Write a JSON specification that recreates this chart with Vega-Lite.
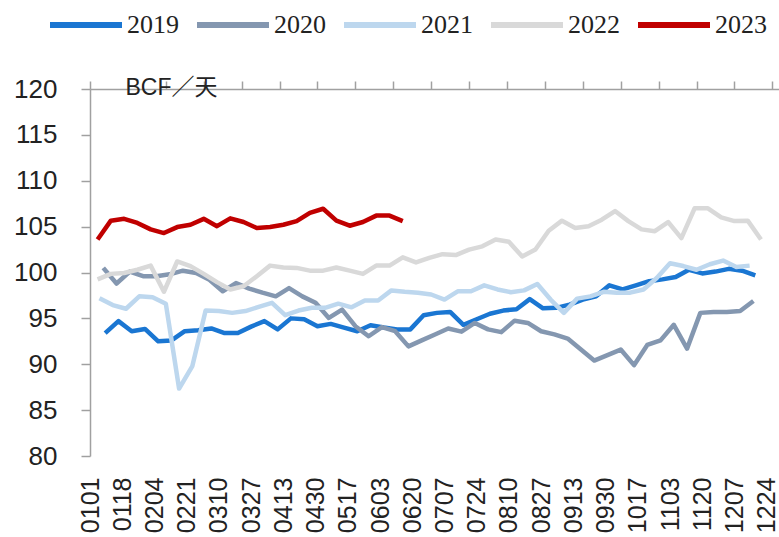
{
  "$schema": "https://vega.github.io/schema/vega-lite/v6.json",
  "width": 689,
  "height": 367,
  "autosize": {"type": "none"},
  "padding": {"left": 90, "top": 89, "right": 0, "bottom": 81},
  "background": "white",
  "config": {"view": {"stroke": null}, "axis": {"grid": false}},
  "data": {"values": [
    {"s":"2019","d":"2001-01-09","v":93.4},{"s":"2019","d":"2001-01-16","v":94.7},{"s":"2019","d":"2001-01-23","v":93.6},{"s":"2019","d":"2001-01-30","v":93.85},
    {"s":"2019","d":"2001-02-06","v":92.5},{"s":"2019","d":"2001-02-13","v":92.6},{"s":"2019","d":"2001-02-20","v":93.6},{"s":"2019","d":"2001-02-27","v":93.7},
    {"s":"2019","d":"2001-03-06","v":93.9},{"s":"2019","d":"2001-03-13","v":93.4},{"s":"2019","d":"2001-03-20","v":93.4},{"s":"2019","d":"2001-03-27","v":94.1},
    {"s":"2019","d":"2001-04-03","v":94.7},{"s":"2019","d":"2001-04-10","v":93.8},{"s":"2019","d":"2001-04-17","v":95.0},{"s":"2019","d":"2001-04-24","v":94.9},
    {"s":"2019","d":"2001-05-01","v":94.15},{"s":"2019","d":"2001-05-08","v":94.4},{"s":"2019","d":"2001-05-15","v":94.0},{"s":"2019","d":"2001-05-22","v":93.6},
    {"s":"2019","d":"2001-05-29","v":94.25},{"s":"2019","d":"2001-06-05","v":94.0},{"s":"2019","d":"2001-06-12","v":93.8},{"s":"2019","d":"2001-06-19","v":93.8},
    {"s":"2019","d":"2001-06-26","v":95.35},{"s":"2019","d":"2001-07-03","v":95.6},{"s":"2019","d":"2001-07-10","v":95.7},{"s":"2019","d":"2001-07-17","v":94.3},
    {"s":"2019","d":"2001-07-24","v":94.9},{"s":"2019","d":"2001-07-31","v":95.5},{"s":"2019","d":"2001-08-07","v":95.85},{"s":"2019","d":"2001-08-14","v":96.0},
    {"s":"2019","d":"2001-08-21","v":97.1},{"s":"2019","d":"2001-08-28","v":96.1},{"s":"2019","d":"2001-09-04","v":96.15},{"s":"2019","d":"2001-09-11","v":96.5},
    {"s":"2019","d":"2001-09-18","v":97.05},{"s":"2019","d":"2001-09-25","v":97.4},{"s":"2019","d":"2001-10-02","v":98.6},{"s":"2019","d":"2001-10-09","v":98.15},
    {"s":"2019","d":"2001-10-16","v":98.6},{"s":"2019","d":"2001-10-23","v":99.05},{"s":"2019","d":"2001-10-30","v":99.25},{"s":"2019","d":"2001-11-06","v":99.5},
    {"s":"2019","d":"2001-11-13","v":100.3},{"s":"2019","d":"2001-11-20","v":99.9},{"s":"2019","d":"2001-11-27","v":100.1},{"s":"2019","d":"2001-12-04","v":100.4},
    {"s":"2019","d":"2001-12-11","v":100.2},{"s":"2019","d":"2001-12-18","v":99.7},

    {"s":"2020","d":"2001-01-08","v":100.5},{"s":"2020","d":"2001-01-15","v":98.8},{"s":"2020","d":"2001-01-22","v":100.1},{"s":"2020","d":"2001-01-29","v":99.6},
    {"s":"2020","d":"2001-02-05","v":99.6},{"s":"2020","d":"2001-02-12","v":99.8},{"s":"2020","d":"2001-02-19","v":100.2},{"s":"2020","d":"2001-02-26","v":99.95},
    {"s":"2020","d":"2001-03-05","v":99.2},{"s":"2020","d":"2001-03-12","v":97.95},{"s":"2020","d":"2001-03-19","v":98.85},{"s":"2020","d":"2001-03-26","v":98.25},
    {"s":"2020","d":"2001-04-02","v":97.8},{"s":"2020","d":"2001-04-09","v":97.4},{"s":"2020","d":"2001-04-16","v":98.3},{"s":"2020","d":"2001-04-23","v":97.4},
    {"s":"2020","d":"2001-04-30","v":96.7},{"s":"2020","d":"2001-05-07","v":95.05},{"s":"2020","d":"2001-05-14","v":95.95},{"s":"2020","d":"2001-05-21","v":94.15},
    {"s":"2020","d":"2001-05-28","v":93.05},{"s":"2020","d":"2001-06-04","v":94.05},{"s":"2020","d":"2001-06-11","v":93.6},{"s":"2020","d":"2001-06-18","v":91.95},
    {"s":"2020","d":"2001-06-25","v":92.6},{"s":"2020","d":"2001-07-02","v":93.25},{"s":"2020","d":"2001-07-09","v":93.9},{"s":"2020","d":"2001-07-16","v":93.55},
    {"s":"2020","d":"2001-07-23","v":94.5},{"s":"2020","d":"2001-07-30","v":93.8},{"s":"2020","d":"2001-08-06","v":93.5},{"s":"2020","d":"2001-08-13","v":94.75},
    {"s":"2020","d":"2001-08-20","v":94.5},{"s":"2020","d":"2001-08-27","v":93.6},{"s":"2020","d":"2001-09-03","v":93.25},{"s":"2020","d":"2001-09-10","v":92.8},
    {"s":"2020","d":"2001-09-17","v":91.6},{"s":"2020","d":"2001-09-24","v":90.4},{"s":"2020","d":"2001-10-01","v":91.0},{"s":"2020","d":"2001-10-08","v":91.6},
    {"s":"2020","d":"2001-10-15","v":89.9},{"s":"2020","d":"2001-10-22","v":92.1},{"s":"2020","d":"2001-10-29","v":92.6},{"s":"2020","d":"2001-11-05","v":94.3},
    {"s":"2020","d":"2001-11-12","v":91.7},{"s":"2020","d":"2001-11-19","v":95.6},{"s":"2020","d":"2001-11-26","v":95.7},{"s":"2020","d":"2001-12-03","v":95.7},
    {"s":"2020","d":"2001-12-10","v":95.8},{"s":"2020","d":"2001-12-17","v":96.9},

    {"s":"2021","d":"2001-01-06","v":97.2},{"s":"2021","d":"2001-01-13","v":96.45},{"s":"2021","d":"2001-01-20","v":96.05},{"s":"2021","d":"2001-01-27","v":97.4},
    {"s":"2021","d":"2001-02-03","v":97.3},{"s":"2021","d":"2001-02-10","v":96.6},{"s":"2021","d":"2001-02-17","v":87.35},{"s":"2021","d":"2001-02-24","v":89.8},
    {"s":"2021","d":"2001-03-03","v":95.85},{"s":"2021","d":"2001-03-10","v":95.8},{"s":"2021","d":"2001-03-17","v":95.6},{"s":"2021","d":"2001-03-24","v":95.8},
    {"s":"2021","d":"2001-03-31","v":96.25},{"s":"2021","d":"2001-04-07","v":96.7},{"s":"2021","d":"2001-04-14","v":95.35},{"s":"2021","d":"2001-04-21","v":95.85},
    {"s":"2021","d":"2001-04-28","v":96.15},{"s":"2021","d":"2001-05-05","v":96.15},{"s":"2021","d":"2001-05-12","v":96.6},{"s":"2021","d":"2001-05-19","v":96.2},
    {"s":"2021","d":"2001-05-26","v":96.95},{"s":"2021","d":"2001-06-02","v":96.95},{"s":"2021","d":"2001-06-09","v":98.05},{"s":"2021","d":"2001-06-16","v":97.9},
    {"s":"2021","d":"2001-06-23","v":97.8},{"s":"2021","d":"2001-06-30","v":97.6},{"s":"2021","d":"2001-07-07","v":97.05},{"s":"2021","d":"2001-07-14","v":97.95},
    {"s":"2021","d":"2001-07-21","v":97.95},{"s":"2021","d":"2001-07-28","v":98.6},{"s":"2021","d":"2001-08-04","v":98.15},{"s":"2021","d":"2001-08-11","v":97.85},
    {"s":"2021","d":"2001-08-18","v":98.05},{"s":"2021","d":"2001-08-25","v":98.75},{"s":"2021","d":"2001-09-01","v":97.05},{"s":"2021","d":"2001-09-08","v":95.6},
    {"s":"2021","d":"2001-09-15","v":97.15},{"s":"2021","d":"2001-09-22","v":97.4},{"s":"2021","d":"2001-09-29","v":97.9},{"s":"2021","d":"2001-10-06","v":97.8},
    {"s":"2021","d":"2001-10-13","v":97.8},{"s":"2021","d":"2001-10-20","v":98.15},{"s":"2021","d":"2001-10-27","v":99.4},{"s":"2021","d":"2001-11-03","v":101.0},
    {"s":"2021","d":"2001-11-10","v":100.7},{"s":"2021","d":"2001-11-17","v":100.3},{"s":"2021","d":"2001-11-24","v":100.9},{"s":"2021","d":"2001-12-01","v":101.3},
    {"s":"2021","d":"2001-12-08","v":100.6},{"s":"2021","d":"2001-12-15","v":100.75},

    {"s":"2022","d":"2001-01-05","v":99.25},{"s":"2022","d":"2001-01-12","v":99.85},{"s":"2022","d":"2001-01-19","v":99.95},{"s":"2022","d":"2001-01-26","v":100.3},
    {"s":"2022","d":"2001-02-02","v":100.75},{"s":"2022","d":"2001-02-09","v":97.9},{"s":"2022","d":"2001-02-16","v":101.2},{"s":"2022","d":"2001-02-23","v":100.7},
    {"s":"2022","d":"2001-03-02","v":99.85},{"s":"2022","d":"2001-03-09","v":98.95},{"s":"2022","d":"2001-03-16","v":98.15},{"s":"2022","d":"2001-03-23","v":98.5},
    {"s":"2022","d":"2001-03-30","v":99.6},{"s":"2022","d":"2001-04-06","v":100.75},{"s":"2022","d":"2001-04-13","v":100.55},{"s":"2022","d":"2001-04-20","v":100.5},
    {"s":"2022","d":"2001-04-27","v":100.2},{"s":"2022","d":"2001-05-04","v":100.2},{"s":"2022","d":"2001-05-11","v":100.55},{"s":"2022","d":"2001-05-18","v":100.2},
    {"s":"2022","d":"2001-05-25","v":99.85},{"s":"2022","d":"2001-06-01","v":100.75},{"s":"2022","d":"2001-06-08","v":100.75},{"s":"2022","d":"2001-06-15","v":101.65},
    {"s":"2022","d":"2001-06-22","v":101.1},{"s":"2022","d":"2001-06-29","v":101.6},{"s":"2022","d":"2001-07-06","v":102.0},{"s":"2022","d":"2001-07-13","v":101.9},
    {"s":"2022","d":"2001-07-20","v":102.5},{"s":"2022","d":"2001-07-27","v":102.85},{"s":"2022","d":"2001-08-03","v":103.6},{"s":"2022","d":"2001-08-10","v":103.35},
    {"s":"2022","d":"2001-08-17","v":101.75},{"s":"2022","d":"2001-08-24","v":102.5},{"s":"2022","d":"2001-08-31","v":104.55},{"s":"2022","d":"2001-09-07","v":105.65},
    {"s":"2022","d":"2001-09-14","v":104.85},{"s":"2022","d":"2001-09-21","v":105.05},{"s":"2022","d":"2001-09-28","v":105.75},{"s":"2022","d":"2001-10-05","v":106.7},
    {"s":"2022","d":"2001-10-12","v":105.6},{"s":"2022","d":"2001-10-19","v":104.7},{"s":"2022","d":"2001-10-26","v":104.5},{"s":"2022","d":"2001-11-02","v":105.5},
    {"s":"2022","d":"2001-11-09","v":103.75},{"s":"2022","d":"2001-11-16","v":107.0},{"s":"2022","d":"2001-11-23","v":107.0},{"s":"2022","d":"2001-11-30","v":106.0},
    {"s":"2022","d":"2001-12-07","v":105.6},{"s":"2022","d":"2001-12-14","v":105.65},{"s":"2022","d":"2001-12-21","v":103.6},

    {"s":"2023","d":"2001-01-05","v":103.6},{"s":"2023","d":"2001-01-12","v":105.65},{"s":"2023","d":"2001-01-19","v":105.85},{"s":"2023","d":"2001-01-26","v":105.4},
    {"s":"2023","d":"2001-02-02","v":104.7},{"s":"2023","d":"2001-02-09","v":104.3},{"s":"2023","d":"2001-02-16","v":104.95},{"s":"2023","d":"2001-02-23","v":105.2},
    {"s":"2023","d":"2001-03-02","v":105.85},{"s":"2023","d":"2001-03-09","v":105.05},{"s":"2023","d":"2001-03-16","v":105.9},{"s":"2023","d":"2001-03-23","v":105.5},
    {"s":"2023","d":"2001-03-30","v":104.85},{"s":"2023","d":"2001-04-06","v":104.95},{"s":"2023","d":"2001-04-13","v":105.2},{"s":"2023","d":"2001-04-20","v":105.6},
    {"s":"2023","d":"2001-04-27","v":106.5},{"s":"2023","d":"2001-05-04","v":106.95},{"s":"2023","d":"2001-05-11","v":105.65},{"s":"2023","d":"2001-05-18","v":105.1},
    {"s":"2023","d":"2001-05-25","v":105.5},{"s":"2023","d":"2001-06-01","v":106.2},{"s":"2023","d":"2001-06-08","v":106.2},{"s":"2023","d":"2001-06-15","v":105.6}
  ]},
  "encoding": {
    "y": {
      "field": "v", "type": "quantitative",
      "scale": {"domain": [80, 120], "nice": false, "zero": false},
      "axis": {
        "values": [80, 85, 90, 95, 100, 105, 110, 115, 120],
        "domainColor": "#a0a0a0", "domainWidth": 1.5,
        "tickColor": "#a0a0a0", "tickSize": 9, "tickWidth": 1.5,
        "labelFont": "Liberation Sans", "labelFontSize": 26, "labelColor": "#222222", "labelPadding": 24,
        "title": "BCF／天", "titleAngle": 0, "titleX": 35, "titleY": -2,
        "titleAlign": "left", "titleBaseline": "middle",
        "titleFont": "Liberation Sans, Noto Sans CJK SC", "titleFontSize": 23,
        "titleFontWeight": "normal", "titleColor": "#222222"
      }
    },
    "color": {
      "field": "s", "type": "nominal",
      "scale": {
        "domain": ["2019", "2020", "2021", "2022", "2023"],
        "range": ["#1a76d2", "#8497b0", "#bdd7ee", "#d9d9d9", "#c00000"]
      },
      "legend": {
        "title": null, "orient": "none", "legendX": -43, "legendY": -76,
        "direction": "horizontal", "columns": 5, "columnPadding": 15,
        "symbolType": "stroke", "symbolSize": 5184, "symbolStrokeWidth": 6,
        "clipHeight": 24,
        "labelFont": "Liberation Serif", "labelFontSize": 26, "labelColor": "#222222",
        "labelOffset": 2
      }
    }
  },
  "layer": [
    {
      "transform": [{"filter": {"field": "s", "oneOf": ["2019", "2020", "2021"]}}],
      "mark": {"type": "line", "strokeWidth": 4.5, "strokeJoin": "round"},
      "encoding": {
        "x": {
          "field": "d", "type": "temporal",
          "scale": {"type": "utc", "domain": [{"year": 2001, "month": 1, "date": 1, "utc": true}, {"year": 2001, "month": 12, "date": 30, "hours": 12, "utc": true}]},
          "axis": {
            "title": null, "format": "%m%d", "labelAngle": 270,
            "values": [
              {"year": 2001, "month": 1, "date": 1, "utc": true},
              {"year": 2001, "month": 1, "date": 18, "utc": true},
              {"year": 2001, "month": 2, "date": 4, "utc": true},
              {"year": 2001, "month": 2, "date": 21, "utc": true},
              {"year": 2001, "month": 3, "date": 10, "utc": true},
              {"year": 2001, "month": 3, "date": 27, "utc": true},
              {"year": 2001, "month": 4, "date": 13, "utc": true},
              {"year": 2001, "month": 4, "date": 30, "utc": true},
              {"year": 2001, "month": 5, "date": 17, "utc": true},
              {"year": 2001, "month": 6, "date": 3, "utc": true},
              {"year": 2001, "month": 6, "date": 20, "utc": true},
              {"year": 2001, "month": 7, "date": 7, "utc": true},
              {"year": 2001, "month": 7, "date": 24, "utc": true},
              {"year": 2001, "month": 8, "date": 10, "utc": true},
              {"year": 2001, "month": 8, "date": 27, "utc": true},
              {"year": 2001, "month": 9, "date": 13, "utc": true},
              {"year": 2001, "month": 9, "date": 30, "utc": true},
              {"year": 2001, "month": 10, "date": 17, "utc": true},
              {"year": 2001, "month": 11, "date": 3, "utc": true},
              {"year": 2001, "month": 11, "date": 20, "utc": true},
              {"year": 2001, "month": 12, "date": 7, "utc": true},
              {"year": 2001, "month": 12, "date": 24, "utc": true}
            ],
            "ticks": false, "domain": false, "labelOverlap": false, "labelFlush": false,
            "labelFont": "Liberation Sans", "labelFontSize": 25, "labelColor": "#222222", "labelPadding": 21
          }
        }
      }
    },
    {
      "transform": [{"filter": {"field": "s", "oneOf": ["2022", "2023"]}}],
      "mark": {"type": "line", "strokeWidth": 4.5, "strokeJoin": "round"},
      "encoding": {
        "x": {
          "field": "d", "type": "temporal",
          "scale": {"type": "utc", "domain": [{"year": 2001, "month": 1, "date": 1, "utc": true}, {"year": 2001, "month": 12, "date": 30, "hours": 12, "utc": true}]},
          "axis": {
            "title": null, "labels": false,
            "values": [
              {"year": 2001, "month": 1, "date": 1, "utc": true},
              {"year": 2001, "month": 1, "date": 21, "utc": true},
              {"year": 2001, "month": 2, "date": 10, "utc": true},
              {"year": 2001, "month": 3, "date": 2, "utc": true},
              {"year": 2001, "month": 3, "date": 22, "utc": true},
              {"year": 2001, "month": 4, "date": 11, "utc": true},
              {"year": 2001, "month": 5, "date": 1, "utc": true},
              {"year": 2001, "month": 5, "date": 21, "utc": true},
              {"year": 2001, "month": 6, "date": 10, "utc": true},
              {"year": 2001, "month": 6, "date": 30, "utc": true},
              {"year": 2001, "month": 7, "date": 20, "utc": true},
              {"year": 2001, "month": 8, "date": 9, "utc": true},
              {"year": 2001, "month": 8, "date": 29, "utc": true},
              {"year": 2001, "month": 9, "date": 18, "utc": true},
              {"year": 2001, "month": 10, "date": 8, "utc": true},
              {"year": 2001, "month": 10, "date": 28, "utc": true},
              {"year": 2001, "month": 11, "date": 17, "utc": true},
              {"year": 2001, "month": 12, "date": 7, "utc": true},
              {"year": 2001, "month": 12, "date": 27, "utc": true}
            ],
            "domainColor": "#a0a0a0", "domainWidth": 1.5,
            "tickColor": "#a0a0a0", "tickSize": 8, "tickWidth": 1.5
          }
        }
      }
    }
  ],
  "resolve": {"axis": {"x": "independent"}}
}
